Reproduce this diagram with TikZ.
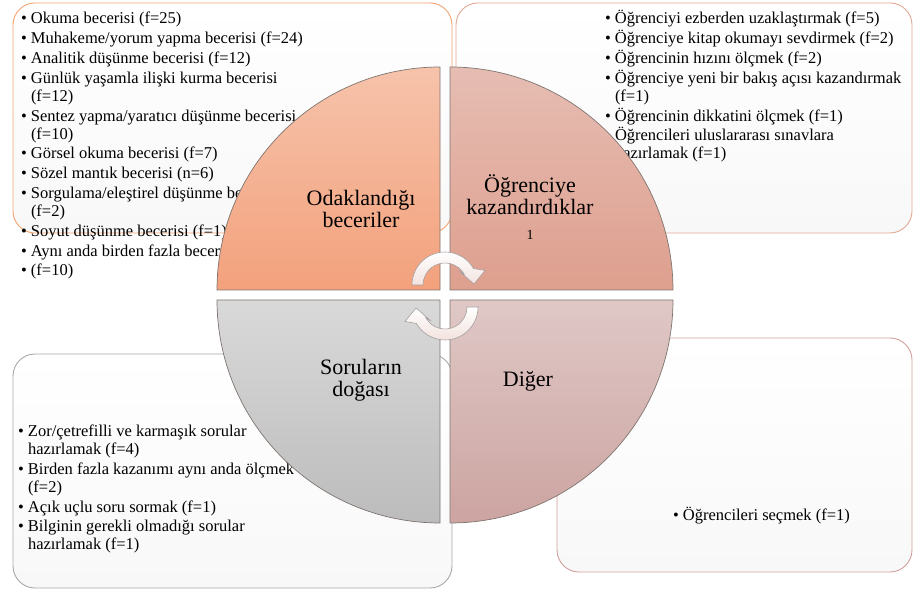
\documentclass[tikz,border=0pt]{standalone}
\usepackage{fontspec}
\setmainfont{Liberation Serif}
\usetikzlibrary{calc}
\definecolor{tlA}{HTML}{F6C3AB}
\definecolor{tlB}{HTML}{F3A17C}
\definecolor{trA}{HTML}{E6BDB3}
\definecolor{trB}{HTML}{DE9F8E}
\definecolor{blA}{HTML}{D9D9D9}
\definecolor{blB}{HTML}{BCBCBC}
\definecolor{brA}{HTML}{DFC8C6}
\definecolor{brB}{HTML}{CCA4A1}
\definecolor{qline}{HTML}{7F7570}
\definecolor{tlline}{HTML}{F4A46F}
\definecolor{trline}{HTML}{E3A896}
\definecolor{blline}{HTML}{A9A9A9}
\definecolor{brline}{HTML}{D3A19D}
\definecolor{panelbot}{HTML}{F8F8F8}
\definecolor{arrline}{HTML}{A5A0A0}
\definecolor{arrbot}{HTML}{F2E2DE}
\newlength\hangw \setlength\hangw{10pt}
\newcommand\bl[1]{\makebox[\hangw][l]{•}#1}
\newcommand\cont[1]{\hspace*{\hangw}#1}
\newcommand\listbox[1]{\vtop{\hsize=430pt\fontsize{16.5}{18}\selectfont\lineskiplimit=-20pt\raggedright\noindent #1\par}}
\newcommand\lbl[1]{\vtop{\hsize=220pt\centering\fontsize{22}{22}\selectfont\lineskiplimit=-20pt #1\par}}
\def\g{1.8pt}
\begin{document}
\begin{tikzpicture}[x=1pt,y=1pt,
  panel/.style={draw, rounded corners=22pt, line width=0.9pt, inner sep=0pt, outer sep=0pt, anchor=south west, top color=white, bottom color=panelbot},
  quarter/.style={draw=qline, line width=0.7pt},
  cyc/.style={draw=arrline, line width=0.6pt, top color=white, bottom color=arrbot},
  txt/.style={anchor=base west, inner sep=0pt, outer sep=0pt},
  lab/.style={anchor=base, inner sep=0pt, outer sep=0pt}]
\useasboundingbox (0,0) rectangle (914,592);
\fill[white] (0,0) rectangle (914,592);

% outer panels
\node[panel, draw=tlline, minimum width=439pt, minimum height=230pt] (tlbox) at (13,359) {};
\node[panel, draw=trline, minimum width=456pt, minimum height=230pt] (trbox) at (456,359) {};
\node[panel, draw=blline, minimum width=439pt, minimum height=234pt] (blbox) at (13,4) {};
\node[panel, draw=brline, minimum width=355pt, minimum height=234pt] (brbox) at (557,20) {};

% lists
\node[txt] (tllist) at (21,568) {\listbox{%
\bl{Okuma becerisi (f=25)}\\[\g]
\bl{Muhakeme/yorum yapma becerisi (f=24)}\\[\g]
\bl{Analitik düşünme becerisi (f=12)}\\[\g]
\bl{Günlük yaşamla ilişki kurma becerisi}\\
\cont{(f=12)}\\[\g]
\bl{Sentez yapma/yaratıcı düşünme becerisi}\\
\cont{(f=10)}\\[\g]
\bl{Görsel okuma becerisi (f=7)}\\[\g]
\bl{Sözel mantık becerisi (n=6)}\\[\g]
\bl{Sorgulama/eleştirel düşünme becerisi}\\
\cont{(f=2)}\\[\g]
\bl{Soyut düşünme becerisi (f=1)}\\[\g]
\bl{Aynı anda birden fazla beceri}\\[\g]
\bl{(f=10)}}};

\node[txt] (trlist) at (605,568) {\listbox{%
\bl{Öğrenciyi ezberden uzaklaştırmak (f=5)}\\[\g]
\bl{Öğrenciye kitap okumayı sevdirmek (f=2)}\\[\g]
\bl{Öğrencinin hızını ölçmek (f=2)}\\[\g]
\bl{Öğrenciye yeni bir bakış açısı kazandırmak}\\
\cont{(f=1)}\\[\g]
\bl{Öğrencinin dikkatini ölçmek (f=1)}\\[\g]
\cont{Öğrencileri uluslararası sınavlara}\\
\cont{hazırlamak (f=1)}}};

\node[txt] (bllist) at (18,155.5) {\listbox{%
\bl{Zor/çetrefilli ve karmaşık sorular}\\
\cont{hazırlamak (f=4)}\\[\g]
\bl{Birden fazla kazanımı aynı anda ölçmek}\\
\cont{(f=2)}\\[\g]
\bl{Açık uçlu soru sormak (f=1)}\\[\g]
\bl{Bilginin gerekli olmadığı sorular}\\
\cont{hazırlamak (f=1)}}};

\node[txt] (brlist) at (673,71) {\listbox{\bl{Öğrencileri seçmek (f=1)}}};

% quarter circles
\path[quarter, top color=tlA, bottom color=tlB] (440,302) -- (217,302) arc[start angle=180, end angle=90, radius=223] -- cycle;
\path[quarter, top color=trA, bottom color=trB] (450,302) -- (450,525) arc[start angle=90, end angle=0, radius=223] -- cycle;
\path[quarter, top color=blA, bottom color=blB] (440,292) -- (217,292) arc[start angle=180, end angle=270, radius=223] -- cycle;
\path[quarter, top color=brA, bottom color=brB] (450,292) -- (673,292) arc[start angle=0, end angle=-90, radius=223] -- cycle;

% labels
\node[lab] (tllab) at (361,386) {\lbl{Odaklandığı\\beceriler}};
\node[lab] (trlab) at (530,399) {\lbl{Öğrenciye\\kazandırdıklar\\[3pt]{\fontsize{14}{14}\selectfont 1}}};
\node[lab] (bllab) at (361,217) {\lbl{Soruların\\doğası}};
\node[lab] (brlab) at (528,205) {\lbl{Diğer}};

% cycle arrows
\begin{scope}[shift={(445,307)}]
\path[cyc] (180:22) -- (180:33) arc[start angle=180, end angle=30, radius=33] -- (40,14.5) -- (29,1) -- (14,14) -- (30:22) arc[start angle=30, end angle=180, radius=22] -- cycle;
\end{scope}
\begin{scope}[shift={(445,285)}, rotate=180]
\path[cyc] (180:22) -- (180:33) arc[start angle=180, end angle=30, radius=33] -- (40,14.5) -- (29,1) -- (14,14) -- (30:22) arc[start angle=30, end angle=180, radius=22] -- cycle;
\end{scope}
\end{tikzpicture}
\end{document}
